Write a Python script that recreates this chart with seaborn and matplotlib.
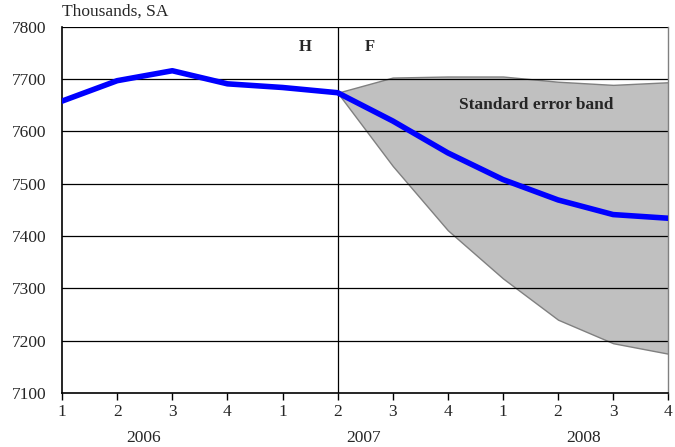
import numpy as np
import pandas as pd
import matplotlib
matplotlib.use("Agg")
import matplotlib.pyplot as plt
import seaborn as sns

# === data ===
quarter_labels = ["1", "2", "3", "4", "1", "2", "3", "4", "1", "2", "3", "4"]
year_labels = ["2006", "2007", "2008"]
employment = [7658, 7697, 7716, 7691, 7684, 7674, 7620, 7559, 7508, 7469, 7441, 7434]
band_upper = [7674, 7703, 7705, 7705, 7695, 7689, 7694]
band_lower = [7674, 7534, 7411, 7319, 7240, 7195, 7175]
forecast_start = 5

sns.set_theme(style="white")
plt.rcParams["font.family"] = ["Liberation Serif", "DejaVu Serif"]

df = pd.DataFrame({"pos": np.arange(len(employment)), "value": employment})
band_x = np.arange(forecast_start, forecast_start + len(band_upper))

fig = plt.figure(figsize=(6.75, 4.47), dpi=100)
ax = fig.add_axes([0.092, 0.121, 0.898, 0.819])

# === band + grid ===
ax.fill_between(band_x, band_lower, band_upper, facecolor="#c0c0c0",
                edgecolor="#808080", linewidth=1.0, zorder=1)
for yv in range(7200, 7801, 100):
    ax.axhline(yv, color="black", lw=0.9, zorder=2)
ax.axvline(forecast_start, color="black", lw=0.9, zorder=2)

sns.lineplot(data=df, x="pos", y="value", color="#0000ff", lw=4, ax=ax, zorder=3)

# === axes ===
ax.set_xlim(0, 11)
ax.set_ylim(7100, 7800)
ax.set_yticks(range(7100, 7801, 100))
ax.set_xticks(df["pos"])
ax.set_xticklabels(quarter_labels)
ax.set_xlabel("")
ax.set_ylabel("")
ax.tick_params(axis="x", direction="out", length=5, width=1, color="black",
               labelsize=12.5, pad=3, bottom=True)
ax.tick_params(axis="y", length=0, labelsize=12.5, pad=11)
for s in ["left", "bottom"]:
    ax.spines[s].set_color("black")
    ax.spines[s].set_linewidth(1.2)
ax.spines["top"].set_visible(False)
ax.spines["right"].set_color("#808080")
ax.spines["right"].set_linewidth(1.0)

trans = ax.get_xaxis_transform()
for i, yr in enumerate(year_labels):
    ax.text(1.47 + 4 * i, -0.122, yr, transform=trans, ha="center", va="center",
            fontsize=12.5)

ax.text(0, 1.02, "Thousands, SA", transform=ax.transAxes, ha="left",
        va="bottom", fontsize=12.5)
ax.text(4.41, 7762, "H", ha="center", va="center", fontsize=12, fontweight="bold")
ax.text(5.59, 7762, "F", ha="center", va="center", fontsize=12, fontweight="bold")
ax.text(8.6, 7650, "Standard error band", ha="center", va="center",
        fontsize=12.5, fontweight="bold", zorder=4)

fig.savefig("out.png", dpi=100)
